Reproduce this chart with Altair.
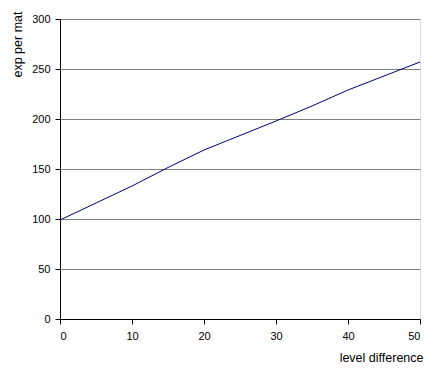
import altair as alt
import pandas as pd

levels = [0, 5, 10, 15, 20, 25, 30, 35, 40, 45, 50]
exp_values = [99, 116, 133, 151.5, 169, 183.5, 198, 213, 229, 243, 257]

df = pd.DataFrame({"level": levels, "exp": exp_values})

FONT = "Liberation Sans"

chart = alt.Chart(df).mark_line(color="#000080", strokeWidth=1, interpolate="linear").encode(
    x=alt.X("level:Q",
            scale=alt.Scale(domain=[0, 50], nice=False, zero=False),
            axis=alt.Axis(values=[0, 10, 20, 30, 40, 50], title="level difference",
                          grid=False, domainColor="black", tickColor="black",
                          tickSize=5, labelPadding=6, labelFontSize=11,
                          labelFont=FONT, labelColor="black",
                          titleFont=FONT, titleFontSize=12.5, titleFontWeight="normal",
                          titleColor="black", titleAlign="right", titleBaseline="alphabetic",
                          titleX=363, titleY=42)),
    y=alt.Y("exp:Q",
            scale=alt.Scale(domain=[0, 300], nice=False),
            axis=alt.Axis(values=[0, 50, 100, 150, 200, 250, 300], title="exp per mat",
                          grid=True, gridColor="#808080", gridWidth=1,
                          domainColor="black", tickColor="black",
                          tickSize=5, labelPadding=5, labelFontSize=11,
                          labelFont=FONT, labelColor="black",
                          titleFont=FONT, titleFontSize=12.5, titleFontWeight="normal",
                          titleColor="black", titleAngle=270, titleAlign="right",
                          titleBaseline="alphabetic", titleX=-39, titleY=-8)),
).properties(
    width=360, height=300,
    autosize=alt.AutoSizeParams(type="none"),
    padding={"left": 52, "top": 11, "right": 17, "bottom": 47},
).configure_view(
    stroke="black", strokeWidth=1
).configure(background="white")

chart.save("out.html", embed_options={"renderer": "svg", "actions": False})
